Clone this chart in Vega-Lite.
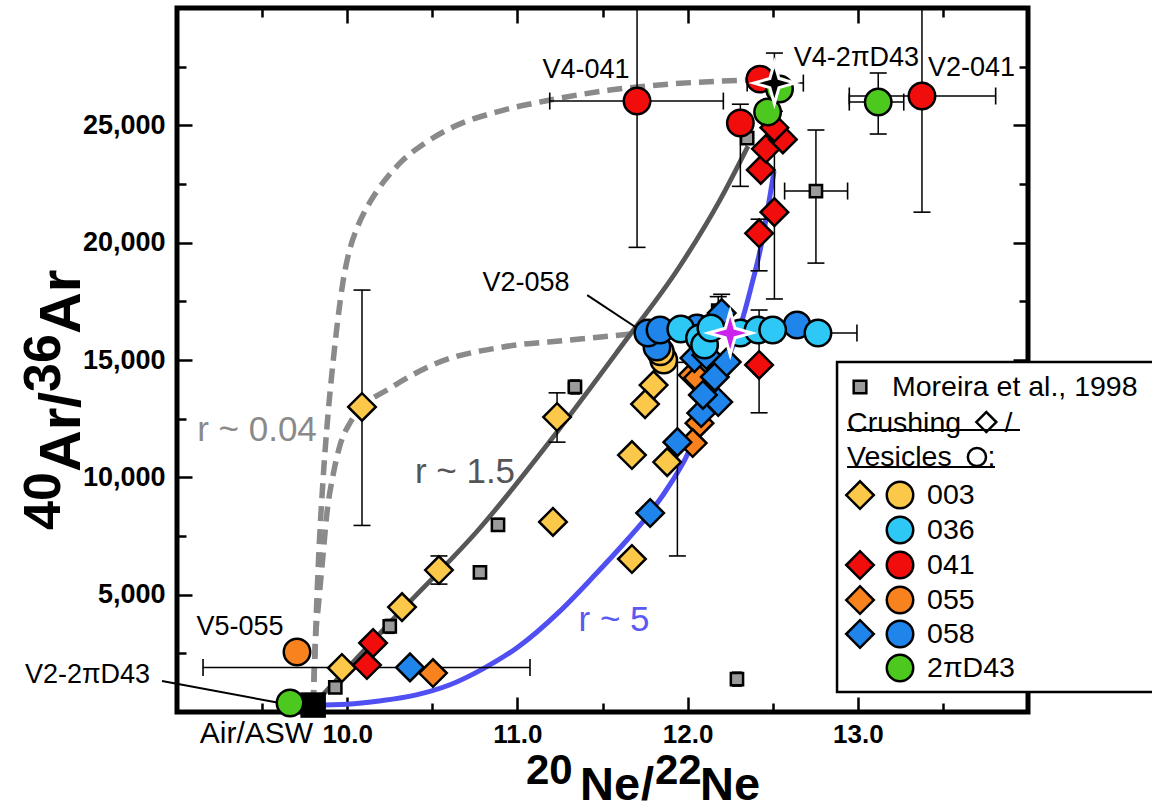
{
"$schema": "https://vega.github.io/schema/vega-lite/v6.json",
"width": 851, "height": 704,
"autosize": {"type": "none"},
"padding": {"left": 177, "top": 8, "right": 124, "bottom": 98},
"background": "white",
"config": {"view": {"stroke": "black", "strokeWidth": 5}, "font": "Liberation Sans",
  "axis": {"domain": false, "grid": false, "tickColor": "black", "tickWidth": 2.5, "labelColor": "black", "labelFont": "Liberation Sans"}},
"datasets": {
"curves": [
{"s":"a","o":1,"x":9.8,"y":296},{"s":"a","o":2,"x":9.828,"y":5923},{"s":"a","o":3,"x":9.858,"y":9886},{"s":"a","o":4,"x":9.887,"y":12655},{"s":"a","o":5,"x":9.917,"y":14914},{"s":"a","o":6,"x":9.946,"y":16788},{"s":"a","o":7,"x":9.975,"y":18322},{"s":"a","o":8,"x":10.011,"y":19601},{"s":"a","o":9,"x":10.058,"y":20623},{"s":"a","o":10,"x":10.117,"y":21518},{"s":"a","o":11,"x":10.175,"y":22200},{"s":"a","o":12,"x":10.251,"y":22924},{"s":"a","o":13,"x":10.328,"y":23521},{"s":"a","o":14,"x":10.457,"y":24245},{"s":"a","o":15,"x":10.622,"y":24927},{"s":"a","o":16,"x":10.898,"y":25609},{"s":"a","o":17,"x":11.192,"y":26077},{"s":"a","o":18,"x":11.544,"y":26503},{"s":"a","o":19,"x":11.897,"y":26759},{"s":"a","o":20,"x":12.373,"y":26930},
{"s":"b","o":1,"x":9.8,"y":296},{"s":"b","o":2,"x":9.811,"y":2642},{"s":"b","o":3,"x":9.834,"y":4772},{"s":"b","o":4,"x":9.858,"y":6690},{"s":"b","o":5,"x":9.881,"y":8479},{"s":"b","o":6,"x":9.917,"y":10099},{"s":"b","o":7,"x":9.958,"y":11377},{"s":"b","o":8,"x":10.016,"y":12314},{"s":"b","o":9,"x":10.087,"y":12996},{"s":"b","o":10,"x":10.234,"y":13720},{"s":"b","o":11,"x":10.528,"y":14871},{"s":"b","o":12,"x":10.915,"y":15553},{"s":"b","o":13,"x":11.309,"y":15851},{"s":"b","o":14,"x":11.72,"y":16150},
{"s":"c","o":1,"x":9.8,"y":296},{"s":"c","o":2,"x":10.31,"y":4261},{"s":"c","o":3,"x":10.78,"y":7840},{"s":"c","o":4,"x":11.233,"y":11931},{"s":"c","o":5,"x":11.603,"y":15510},{"s":"c","o":6,"x":11.955,"y":19004},{"s":"c","o":7,"x":12.19,"y":21816},{"s":"c","o":8,"x":12.355,"y":24117},
{"s":"d","o":1,"x":9.8,"y":296},{"s":"d","o":2,"x":10.0,"y":330},{"s":"d","o":3,"x":10.2,"y":480},{"s":"d","o":4,"x":10.4,"y":720},{"s":"d","o":5,"x":10.6,"y":1150},{"s":"d","o":6,"x":10.8,"y":1850},{"s":"d","o":7,"x":11.0,"y":2750},{"s":"d","o":8,"x":11.25,"y":4300},{"s":"d","o":9,"x":11.444,"y":5750},{"s":"d","o":10,"x":11.644,"y":7330},{"s":"d","o":11,"x":11.779,"y":8480},{"s":"d","o":12,"x":11.914,"y":9890},{"s":"d","o":13,"x":11.98,"y":10700},{"s":"d","o":14,"x":12.13,"y":13290},{"s":"d","o":15,"x":12.25,"y":15300},{"s":"d","o":16,"x":12.326,"y":16830},{"s":"d","o":17,"x":12.384,"y":18410},{"s":"d","o":18,"x":12.43,"y":19800},{"s":"d","o":19,"x":12.467,"y":21260},{"s":"d","o":20,"x":12.508,"y":23050}
],
"pts": [
{"g":"M","m":"M","x":9.93,"y":1050,"eylo":800,"eyhi":1300},
{"g":"M","m":"M","x":10.25,"y":3650,"eylo":3350,"eyhi":3950,"exlo":10.215,"exhi":10.285},
{"g":"M","m":"M","x":10.78,"y":5950,"eylo":5700,"eyhi":6200,"exlo":10.745,"exhi":10.815},
{"g":"M","m":"M","x":10.886,"y":7970,"eylo":7700,"eyhi":8250,"exlo":10.85,"exhi":10.92},
{"g":"M","m":"M","x":11.338,"y":13850,"eylo":13550,"eyhi":14150,"exlo":11.3,"exhi":11.376},
{"g":"M","m":"M","x":12.35,"y":24450},
{"g":"M","m":"M","x":12.754,"y":22200,"xlo":12.57,"xhi":12.94,"ylo":19130,"yhi":24800},
{"g":"M","m":"M","x":12.29,"y":1400,"eylo":1100,"eyhi":1700,"exlo":12.255,"exhi":12.325},
{"g":"M","m":"M","x":12.18,"y":17100,"ylo":16700,"yhi":17700},
{"g":"air","m":"A","x":9.8,"y":296},
{"g":"003","m":"d","x":10.087,"y":13000,"ylo":7950,"yhi":17980},
{"g":"003","m":"d","x":11.233,"y":12570,"ylo":11500,"yhi":13600},
{"g":"003","m":"d","x":11.209,"y":8100},
{"g":"003","m":"d","x":10.539,"y":6050,"ylo":5450,"yhi":6650},
{"g":"003","m":"d","x":10.322,"y":4470},
{"g":"003","m":"d","x":9.969,"y":1875},
{"g":"003","m":"d","x":11.673,"y":6520},
{"g":"003","m":"d","x":11.673,"y":10950},
{"g":"003","m":"d","x":11.8,"y":13930},
{"g":"003","m":"d","x":11.75,"y":13120},
{"g":"003","m":"d","x":11.88,"y":10650},
{"g":"055","m":"d","x":10.504,"y":1660},
{"g":"055","m":"d","x":12.03,"y":14360},
{"g":"055","m":"d","x":12.07,"y":12310},
{"g":"055","m":"d","x":12.03,"y":11460},
{"g":"055","m":"d","x":12.06,"y":14230},
{"g":"041","m":"d","x":10.152,"y":2940},
{"g":"041","m":"d","x":10.116,"y":2000},
{"g":"041","m":"d","x":12.42,"y":14790,"ylo":12750,"yhi":17130},
{"g":"041","m":"d","x":12.42,"y":20400,"ylo":18800,"yhi":21000},
{"g":"041","m":"d","x":12.51,"y":21300,"ylo":17600,"yhi":25000},
{"g":"041","m":"d","x":12.43,"y":23100},
{"g":"041","m":"d","x":12.46,"y":24000},
{"g":"041","m":"d","x":12.56,"y":24400},
{"g":"041","m":"d","x":12.51,"y":24900},
{"g":"058","m":"d","x":10.369,"y":1900,"xlo":9.153,"xhi":11.074},
{"g":"058","m":"d","x":11.78,"y":8480},
{"g":"058","m":"d","x":11.94,"y":11500,"ylo":6650,"yhi":14900},
{"g":"058","m":"d","x":12.08,"y":12740},
{"g":"058","m":"d","x":12.18,"y":13210},
{"g":"058","m":"d","x":12.09,"y":13510},
{"g":"058","m":"d","x":12.16,"y":14280},
{"g":"058","m":"d","x":12.23,"y":14910},
{"g":"058","m":"d","x":12.04,"y":15080},
{"g":"058","m":"d","x":12.11,"y":15210},
{"g":"058","m":"d","x":12.2,"y":17000,"ylo":16400,"yhi":17800},
{"g":"003","m":"c","x":11.86,"y":15000},
{"g":"003","m":"c","x":11.84,"y":15350},
{"g":"058","m":"c","x":11.82,"y":15550},
{"g":"058","m":"c","x":11.767,"y":16150},
{"g":"058","m":"c","x":11.838,"y":16280},
{"g":"058","m":"c","x":12.055,"y":16360},
{"g":"058","m":"c","x":12.643,"y":16490},
{"g":"036","m":"c","x":11.96,"y":16320},
{"g":"036","m":"c","x":12.07,"y":15940},
{"g":"036","m":"c","x":12.1,"y":15640},
{"g":"036","m":"c","x":12.137,"y":16360},
{"g":"036","m":"c","x":12.31,"y":16150},
{"g":"036","m":"c","x":12.414,"y":16280},
{"g":"036","m":"c","x":12.5,"y":16280},
{"g":"036","m":"c","x":12.766,"y":16150,"xlo":12.55,"xhi":12.995},
{"g":"055","m":"c","x":9.705,"y":2560},
{"g":"041","m":"c","x":11.703,"y":26035,"xlo":11.19,"xhi":12.21,"ylo":19800,"yhi":30000},
{"g":"041","m":"c","x":13.377,"y":26250,"xlo":12.95,"xhi":13.81,"ylo":21300,"yhi":30000},
{"g":"041","m":"c","x":12.31,"y":25100,"ylo":22400,"yhi":25900},
{"g":"041","m":"c","x":12.425,"y":26970},
{"g":"2πD43","m":"c","x":9.664,"y":383},
{"g":"2πD43","m":"c","x":13.12,"y":25990,"xlo":12.95,"xhi":13.27,"ylo":24630,"yhi":27230},
{"g":"2πD43","m":"c","x":12.47,"y":25570},
{"g":"2πD43","m":"c","x":12.54,"y":26550},
{"g":"2πD43","m":"S","x":12.51,"y":26800,"xlo":12.35,"xhi":12.68,"ylo":25600,"yhi":28080},
{"g":"058","m":"P","x":12.25,"y":16150}
],
"ann": [
{"t":"V4-041","x":11.403,"y":27356},
{"t":"V4-2πD43","x":12.992,"y":27867},
{"t":"V2-041","x":13.668,"y":27441},
{"t":"V2-058","x":11.05,"y":18280},
{"t":"V5-055","x":9.37,"y":3622},
{"t":"V2-2πD43","x":8.474,"y":1577}
],
"rlab": [
{"t":"r ~ 0.04","x":9.47,"y":12016},
{"t":"r ~ 1.5","x":10.692,"y":10226},
{"t":"r ~ 5","x":11.568,"y":3920}
],
"lead": [
{"x":11.41,"y":17768,"x2":11.72,"y2":16277},
{"x":8.912,"y":1321,"x2":9.605,"y2":383}
],
"legbox": [{"x":12.878,"y":852,"x2":14.74,"y2":14914}],
"legsym": [
{"g":"M","m":"M","x":13.013,"y":13848},
{"g":"003","m":"d","x":13.013,"y":9246},{"g":"003","m":"c","x":13.248,"y":9246},
{"g":"036","m":"c","x":13.248,"y":7755},
{"g":"041","m":"d","x":13.013,"y":6264},{"g":"041","m":"c","x":13.248,"y":6264},
{"g":"055","m":"d","x":13.013,"y":4772},{"g":"055","m":"c","x":13.248,"y":4772},
{"g":"058","m":"d","x":13.013,"y":3324},{"g":"058","m":"c","x":13.248,"y":3324},
{"g":"2πD43","m":"c","x":13.248,"y":1875},
{"g":"o","m":"od","x":13.755,"y":12357},
{"g":"o","m":"oc","x":13.70,"y":10866}
],
"legtxt": [
{"t":"Moreira et al., 1998","x":13.201,"y":13848},
{"t":"Crushing","x":12.937,"y":12314},
{"t":"/","x":13.862,"y":12314},
{"t":"Vesicles","x":12.937,"y":10866},
{"t":":","x":13.762,"y":10866},
{"t":"003","x":13.407,"y":9246},
{"t":"036","x":13.407,"y":7755},
{"t":"041","x":13.407,"y":6264},
{"t":"055","x":13.407,"y":4772},
{"t":"058","x":13.407,"y":3324},
{"t":"2πD43","x":13.407,"y":1875}
],
"legline": [
{"x":12.937,"x2":13.953,"y":12016},
{"x":12.937,"x2":13.806,"y":10439}
],
"xtitle": [
{"t":"20","k":"n","x":11.05,"y":-3080},
{"t":"Ne","k":"w","x":11.368,"y":-3750},
{"t":"/","k":"w","x":11.726,"y":-3750},
{"t":"22","k":"n","x":11.808,"y":-3080},
{"t":"Ne","k":"w","x":12.073,"y":-3750}
],
"ytitle": [
{"t":"40","k":"n","x":8.3126,"y":7755},
{"t":"Ar","k":"w","x":8.43,"y":10226},
{"t":"/","k":"w","x":8.43,"y":12953},
{"t":"36","k":"n","x":8.3126,"y":13635},
{"t":"Ar","k":"w","x":8.43,"y":16107}
],
"airlab": [{"t":"Air/ASW","x":9.8,"y":-937}]
},
"encoding": {
  "x": {"field": "x", "type": "quantitative", "scale": {"domain": [9, 14], "nice": false, "zero": false}, "axis": null},
  "y": {"field": "y", "type": "quantitative", "scale": {"domain": [0, 30000], "nice": false, "zero": false}, "axis": null}
},
"layer": [
{"data": {"name": "curves"}, "mark": {"type": "point", "opacity": 0},
 "encoding": {
  "x": {"field": "x", "type": "quantitative", "scale": {"domain": [9, 14], "nice": false, "zero": false},
    "axis": {"orient": "bottom", "title": null, "values": [9.5,10,10.5,11,11.5,12,12.5,13,13.5],
      "labelExpr": "datum.value % 1 == 0 ? format(datum.value, '.1f') : ''",
      "tickSize": {"condition": {"test": "datum.value % 1 == 0", "value": -15}, "value": -9},
      "labelFontSize": 26, "labelFontWeight": "bold", "labelPadding": 24, "labelOverlap": false, "labelFlush": false}},
  "y": {"field": "y", "type": "quantitative", "scale": {"domain": [0, 30000], "nice": false, "zero": false},
    "axis": {"orient": "left", "title": null, "values": [2500,5000,7500,10000,12500,15000,17500,20000,22500,25000,27500],
      "labelExpr": "datum.value % 5000 == 0 ? format(datum.value, ',') : ''",
      "tickSize": {"condition": {"test": "datum.value % 5000 == 0", "value": -15}, "value": -9},
      "labelFontSize": 27, "labelFontWeight": "bold", "labelPadding": 27, "labelOverlap": false, "labelFlush": false}}
 }},
{"data": {"name": "curves"}, "mark": {"type": "point", "opacity": 0},
 "encoding": {
  "x": {"field": "x", "type": "quantitative", "scale": {"domain": [9, 14], "nice": false, "zero": false},
    "axis": {"orient": "top", "title": null, "labels": false, "values": [9.5,10,10.5,11,11.5,12,12.5,13,13.5],
      "tickSize": {"condition": {"test": "datum.value % 1 == 0", "value": -15}, "value": -9}}},
  "y": {"field": "y", "type": "quantitative", "scale": {"domain": [0, 30000], "nice": false, "zero": false},
    "axis": {"orient": "right", "title": null, "labels": false, "values": [2500,5000,7500,10000,12500,15000,17500,20000,22500,25000,27500],
      "tickSize": {"condition": {"test": "datum.value % 5000 == 0", "value": -15}, "value": -9}}}
 }},
{"data": {"name": "curves"}, "transform": [{"filter": "datum.s == 'a' || datum.s == 'b'"}],
 "mark": {"type": "line", "color": "#8a8a8a", "strokeWidth": 5.5, "strokeDash": [15, 8], "interpolate": "monotone"},
 "encoding": {"detail": {"field": "s"}, "order": {"field": "o"}}},
{"data": {"name": "curves"}, "transform": [{"filter": "datum.s == 'c'"}],
 "mark": {"type": "line", "color": "#575757", "strokeWidth": 4.8, "interpolate": "monotone"},
 "encoding": {"order": {"field": "o"}}},
{"data": {"name": "curves"}, "transform": [{"filter": "datum.s == 'd'"}],
 "mark": {"type": "line", "color": "#5050f2", "strokeWidth": 5, "interpolate": "monotone"},
 "encoding": {"order": {"field": "o"}}},
{"data": {"name": "pts"}, "transform": [{"filter": "isValid(datum.ylo)"}],
 "mark": {"type": "rule", "color": "black", "strokeWidth": 1.5},
 "encoding": {"y": {"field": "ylo", "type": "quantitative"}, "y2": {"field": "yhi"}}},
{"data": {"name": "pts"}, "transform": [{"filter": "isValid(datum.ylo)"}, {"fold": ["ylo", "yhi"], "as": ["k", "v"]}],
 "mark": {"type": "tick", "orient": "horizontal", "size": 17, "thickness": 1.6, "color": "black", "opacity": 1},
 "encoding": {"y": {"field": "v", "type": "quantitative"}}},
{"data": {"name": "pts"}, "transform": [{"filter": "isValid(datum.xlo)"}],
 "mark": {"type": "rule", "color": "black", "strokeWidth": 1.5},
 "encoding": {"x": {"field": "xlo", "type": "quantitative"}, "x2": {"field": "xhi"}}},
{"data": {"name": "pts"}, "transform": [{"filter": "isValid(datum.xlo)"}, {"fold": ["xlo", "xhi"], "as": ["k", "v"]}],
 "mark": {"type": "tick", "orient": "vertical", "size": 17, "thickness": 1.6, "color": "black", "opacity": 1},
 "encoding": {"x": {"field": "v", "type": "quantitative"}}},
{"data": {"name": "pts"}, "transform": [{"filter": "isValid(datum.eylo)"}],
 "mark": {"type": "rule", "color": "black", "strokeWidth": 1.3},
 "encoding": {"y": {"field": "eylo", "type": "quantitative"}, "y2": {"field": "eyhi"}}},
{"data": {"name": "pts"}, "transform": [{"filter": "isValid(datum.eylo)"}, {"fold": ["eylo", "eyhi"], "as": ["k", "v"]}],
 "mark": {"type": "tick", "orient": "horizontal", "size": 10, "thickness": 1.4, "color": "black", "opacity": 1},
 "encoding": {"y": {"field": "v", "type": "quantitative"}}},
{"data": {"name": "pts"}, "transform": [{"filter": "isValid(datum.exlo)"}],
 "mark": {"type": "rule", "color": "black", "strokeWidth": 1.3},
 "encoding": {"x": {"field": "exlo", "type": "quantitative"}, "x2": {"field": "exhi"}}},
{"data": {"name": "pts"}, "transform": [{"filter": "isValid(datum.exlo)"}, {"fold": ["exlo", "exhi"], "as": ["k", "v"]}],
 "mark": {"type": "tick", "orient": "vertical", "size": 10, "thickness": 1.4, "color": "black", "opacity": 1},
 "encoding": {"x": {"field": "v", "type": "quantitative"}}},
{"data": {"name": "lead"}, "mark": {"type": "rule", "color": "black", "strokeWidth": 2},
 "encoding": {"x2": {"field": "x2"}, "y2": {"field": "y2"}}},
{"data": {"name": "pts"}, "transform": [{"filter": "datum.m == 'M'"}],
 "mark": {"type": "point", "shape": "square", "filled": true, "size": 150, "fill": "#9a9a9a", "stroke": "black", "strokeWidth": 2.5, "opacity": 1}},
{"data": {"name": "pts"}, "transform": [{"filter": "datum.m == 'A'"}],
 "mark": {"type": "point", "shape": "square", "filled": true, "size": 650, "fill": "black", "opacity": 1}},
{"data": {"name": "pts"}, "transform": [{"filter": "datum.m == 'd'"}],
 "mark": {"type": "point", "shape": "diamond", "filled": true, "size": 760, "stroke": "black", "strokeWidth": 2.5, "opacity": 1},
 "encoding": {"color": {"field": "g", "type": "nominal", "legend": null,
   "scale": {"domain": ["M","003","036","041","055","058","2πD43"], "range": ["#9a9a9a","#fcc84a","#2dc8f5","#f20d0d","#f7821e","#1f85eb","#4dc81e"]}}}},
{"data": {"name": "pts"}, "transform": [{"filter": "datum.m == 'c'"}],
 "mark": {"type": "point", "shape": "circle", "filled": true, "size": 700, "stroke": "black", "strokeWidth": 2.5, "opacity": 1},
 "encoding": {"color": {"field": "g", "type": "nominal", "legend": null}}},
{"data": {"name": "pts"}, "transform": [{"filter": "datum.m == 'S'"}],
 "mark": {"type": "point", "shape": "M0,-1L0.22,-0.22L1,0L0.22,0.22L0,1L-0.22,0.22L-1,0L-0.22,-0.22Z", "filled": true, "size": 1700, "fill": "black", "stroke": "white", "strokeWidth": 3, "opacity": 1}},
{"data": {"name": "pts"}, "transform": [{"filter": "datum.m == 'P'"}],
 "mark": {"type": "point", "shape": "M0,-1L0.22,-0.22L1,0L0.22,0.22L0,1L-0.22,0.22L-1,0L-0.22,-0.22Z", "filled": true, "size": 1900, "fill": "#cc22ee", "stroke": "white", "strokeWidth": 3, "opacity": 1}},
{"data": {"name": "ann"}, "mark": {"type": "text", "fontSize": 27, "font": "Liberation Sans", "color": "black", "align": "center", "baseline": "middle"},
 "encoding": {"text": {"field": "t"}}},
{"data": {"name": "rlab"}, "transform": [{"filter": "datum.t == 'r ~ 0.04'"}],
 "mark": {"type": "text", "fontSize": 35, "font": "Liberation Sans", "align": "center", "baseline": "middle", "color": "#8a8a8a"},
 "encoding": {"text": {"field": "t"}}},
{"data": {"name": "rlab"}, "transform": [{"filter": "datum.t == 'r ~ 1.5'"}],
 "mark": {"type": "text", "fontSize": 35, "font": "Liberation Sans", "align": "center", "baseline": "middle", "color": "#555555"},
 "encoding": {"text": {"field": "t"}}},
{"data": {"name": "rlab"}, "transform": [{"filter": "datum.t == 'r ~ 5'"}],
 "mark": {"type": "text", "fontSize": 35, "font": "Liberation Sans", "align": "center", "baseline": "middle", "color": "#5a5af2"},
 "encoding": {"text": {"field": "t"}}},
{"data": {"name": "legbox"}, "mark": {"type": "rect", "fill": "white", "stroke": "black", "strokeWidth": 2.5},
 "encoding": {"x2": {"field": "x2"}, "y2": {"field": "y2"}}},
{"data": {"name": "legsym"}, "transform": [{"filter": "datum.m == 'M'"}],
 "mark": {"type": "point", "shape": "square", "filled": true, "size": 160, "fill": "#9a9a9a", "stroke": "black", "strokeWidth": 2.5, "opacity": 1}},
{"data": {"name": "legsym"}, "transform": [{"filter": "datum.m == 'd'"}],
 "mark": {"type": "point", "shape": "diamond", "filled": true, "size": 760, "stroke": "black", "strokeWidth": 2.5, "opacity": 1},
 "encoding": {"color": {"field": "g", "type": "nominal", "legend": null}}},
{"data": {"name": "legsym"}, "transform": [{"filter": "datum.m == 'c'"}],
 "mark": {"type": "point", "shape": "circle", "filled": true, "size": 700, "stroke": "black", "strokeWidth": 2.5, "opacity": 1},
 "encoding": {"color": {"field": "g", "type": "nominal", "legend": null}}},
{"data": {"name": "legsym"}, "transform": [{"filter": "datum.m == 'od'"}],
 "mark": {"type": "point", "shape": "diamond", "filled": false, "size": 400, "stroke": "black", "strokeWidth": 2.5, "opacity": 1}},
{"data": {"name": "legsym"}, "transform": [{"filter": "datum.m == 'oc'"}],
 "mark": {"type": "point", "shape": "circle", "filled": false, "size": 330, "stroke": "black", "strokeWidth": 2.5, "opacity": 1}},
{"data": {"name": "legtxt"}, "mark": {"type": "text", "fontSize": 28.5, "font": "Liberation Sans", "color": "black", "align": "left", "baseline": "middle"},
 "encoding": {"text": {"field": "t"}}},
{"data": {"name": "legline"}, "mark": {"type": "rule", "color": "black", "strokeWidth": 2},
 "encoding": {"x2": {"field": "x2"}}},
{"data": {"name": "airlab"}, "mark": {"type": "text", "fontSize": 30, "font": "Liberation Sans", "color": "black", "align": "right", "baseline": "middle"},
 "encoding": {"text": {"field": "t"}}},
{"data": {"name": "xtitle"}, "transform": [{"filter": "datum.k == 'n'"}],
 "mark": {"type": "text", "fontWeight": "bold", "fontSize": 42, "font": "Liberation Sans", "color": "black", "align": "left", "baseline": "alphabetic"},
 "encoding": {"text": {"field": "t"}}},
{"data": {"name": "xtitle"}, "transform": [{"filter": "datum.k == 'w'"}],
 "mark": {"type": "text", "fontWeight": "bold", "fontSize": 47, "font": "Liberation Sans", "color": "black", "align": "left", "baseline": "alphabetic"},
 "encoding": {"text": {"field": "t"}}},
{"data": {"name": "ytitle"}, "transform": [{"filter": "datum.k == 'n'"}],
 "mark": {"type": "text", "fontWeight": "bold", "fontSize": 52, "font": "Liberation Sans", "color": "black", "align": "left", "baseline": "alphabetic", "angle": 270},
 "encoding": {"text": {"field": "t"}}},
{"data": {"name": "ytitle"}, "transform": [{"filter": "datum.k == 'w'"}],
 "mark": {"type": "text", "fontWeight": "bold", "fontSize": 58, "font": "Liberation Sans", "color": "black", "align": "left", "baseline": "alphabetic", "angle": 270},
 "encoding": {"text": {"field": "t"}}}
],
"resolve": {"axis": {"x": "independent", "y": "independent"}}
}
